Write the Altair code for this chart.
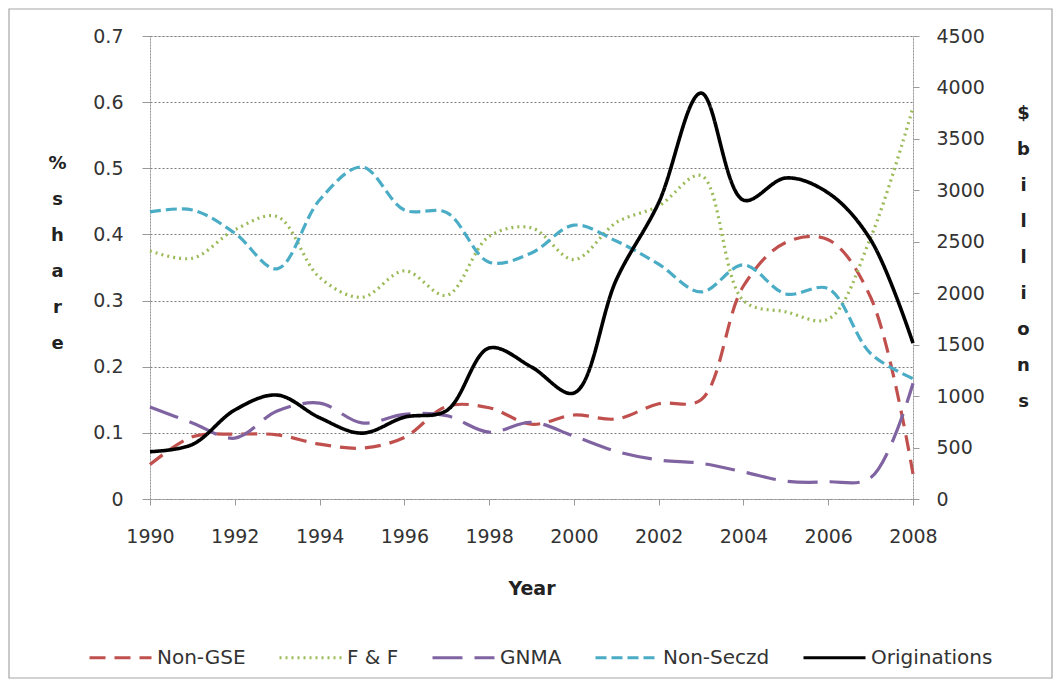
import altair as alt
import pandas as pd

years = list(range(1990, 2009))

non_gse = [0.052, 0.094, 0.098, 0.097, 0.083, 0.077, 0.093, 0.140, 0.138, 0.113,
           0.127, 0.121, 0.144, 0.150, 0.322, 0.388, 0.392, 0.305, 0.038]
f_and_f = [0.375, 0.364, 0.407, 0.427, 0.335, 0.305, 0.345, 0.308, 0.397, 0.410,
           0.362, 0.418, 0.443, 0.489, 0.300, 0.283, 0.272, 0.395, 0.592]
gnma = [0.139, 0.115, 0.092, 0.133, 0.145, 0.115, 0.128, 0.126, 0.101, 0.116,
        0.095, 0.072, 0.059, 0.054, 0.041, 0.027, 0.026, 0.032, 0.175]
non_seczd = [0.434, 0.437, 0.402, 0.348, 0.452, 0.502, 0.437, 0.433, 0.358, 0.372,
             0.414, 0.390, 0.355, 0.313, 0.354, 0.310, 0.318, 0.220, 0.182]
originations = [460, 530, 865, 1010, 790, 640, 795, 860, 1467, 1283,
                1030, 2130, 2880, 3945, 2905, 3120, 2975, 2520, 1515]

series_names = ["Non-GSE", "F & F", "GNMA", "Non-Seczd", "Originations"]
series_colors = ["#C0504D", "#9BBB59", "#8064A2", "#4BACC6", "#000000"]
series_dashes = [[16, 9], [2, 4], [30, 12], [11, 5], [1, 0]]

share_rows = []
for name, vals in zip(series_names[:4], [non_gse, f_and_f, gnma, non_seczd]):
    for y, v in zip(years, vals):
        share_rows.append({"Year": y, "Series": name, "Share": v})
share_df = pd.DataFrame(share_rows)
orig_df = pd.DataFrame({"Year": years, "Series": "Originations", "Billions": originations})

FONT = "DejaVu Sans"
W, H = 763, 463
PL, PT, PR, PB = 142, 28, 140, 180

color_scale = alt.Scale(domain=series_names, range=series_colors)
dash_scale = alt.Scale(domain=series_names, range=series_dashes)

legend = alt.Legend(
    title=None, orient="none", direction="horizontal", columns=5,
    legendX=-62, legendY=589, symbolType="stroke", symbolSize=3844,
    symbolStrokeWidth=3, labelFont=FONT, labelFontSize=20, labelColor="#333333",
    labelOffset=4, columnPadding=27, labelLimit=300,
)

x_enc = alt.X(
    "Year:Q",
    scale=alt.Scale(domain=[1990, 2008], nice=False, zero=False),
    axis=alt.Axis(
        values=list(range(1990, 2009, 2)), format="d", grid=False, labelFlush=False,
        title="Year", titleFontWeight="bold", titleFontSize=19, titleFont=FONT,
        titleColor="#222222", titleY=89, titleBaseline="middle",
        labelFont=FONT, labelFontSize=19, labelColor="#333333", labelPadding=22,
        tickSize=6, tickColor="#9a9a9a", domainColor="#9a9a9a", domainDash=[2, 1],
    ),
)

lines_left = alt.Chart(share_df).mark_line(interpolate="catmull-rom", strokeWidth=3.2).encode(
    x=x_enc,
    y=alt.Y(
        "Share:Q",
        scale=alt.Scale(domain=[0, 0.7], nice=False),
        axis=alt.Axis(
            values=[0, 0.1, 0.2, 0.3, 0.4, 0.5, 0.6, 0.7], format="~g",
            grid=True, gridColor="#7a7a7a", gridDash=[2, 2], gridWidth=1,
            title=["%", "", "s", "h", "a", "r", "e"], titleAngle=0,
            titleFont=FONT, titleFontSize=18, titleFontWeight="bold", titleColor="#222222",
            titleLineHeight=36, titleX=-93, titleY=127, titleAlign="center",
            titleBaseline="middle",
            labelFont=FONT, labelFontSize=19, labelColor="#333333", labelPadding=19,
            tickSize=8, tickColor="#9a9a9a", domainColor="#9a9a9a", domainDash=[2, 1],
        ),
    ),
    color=alt.Color("Series:N", scale=color_scale, legend=legend),
    strokeDash=alt.StrokeDash("Series:N", scale=dash_scale, legend=legend),
    detail="Series:N",
)

line_right = alt.Chart(orig_df).mark_line(interpolate="catmull-rom", strokeWidth=3.6).encode(
    x=alt.X("Year:Q", scale=alt.Scale(domain=[1990, 2008], nice=False, zero=False)),
    y=alt.Y(
        "Billions:Q",
        scale=alt.Scale(domain=[0, 4500], nice=False),
        axis=alt.Axis(
            orient="right", values=list(range(0, 4501, 500)), format="d", grid=False,
            title=["$", "", "b", "i", "l", "l", "i", "o", "n", "s"], titleAngle=0,
            titleFont=FONT, titleFontSize=18, titleFontWeight="bold", titleColor="#222222",
            titleLineHeight=36, titleX=110, titleY=77, titleAlign="center",
            titleBaseline="middle",
            labelFont=FONT, labelFontSize=19, labelColor="#333333", labelPadding=17,
            tickSize=6, tickColor="#9a9a9a", domainColor="#9a9a9a", domainDash=[2, 1],
        ),
    ),
    color=alt.Color("Series:N", scale=color_scale, legend=legend),
    strokeDash=alt.StrokeDash("Series:N", scale=dash_scale, legend=legend),
)

frame = alt.Chart(alt.Data(values=[{"k": 1}])).mark_rect(
    fill=None, stroke="#a6a6a6", strokeWidth=1.2
).encode(
    x=alt.value(-PL + 1), x2=alt.value(W + PR - 1),
    y=alt.value(-PT + 1), y2=alt.value(H + PB - 1),
)

chart = alt.layer(lines_left, line_right, frame).resolve_scale(
    y="independent"
).properties(
    width=W, height=H,
    autosize=alt.AutoSizeParams(type="none"),
    padding={"left": PL, "top": PT, "right": PR, "bottom": PB},
).configure_view(stroke=None).configure(background="white")

chart.save("out.html", embed_options={"renderer": "svg", "actions": False})
